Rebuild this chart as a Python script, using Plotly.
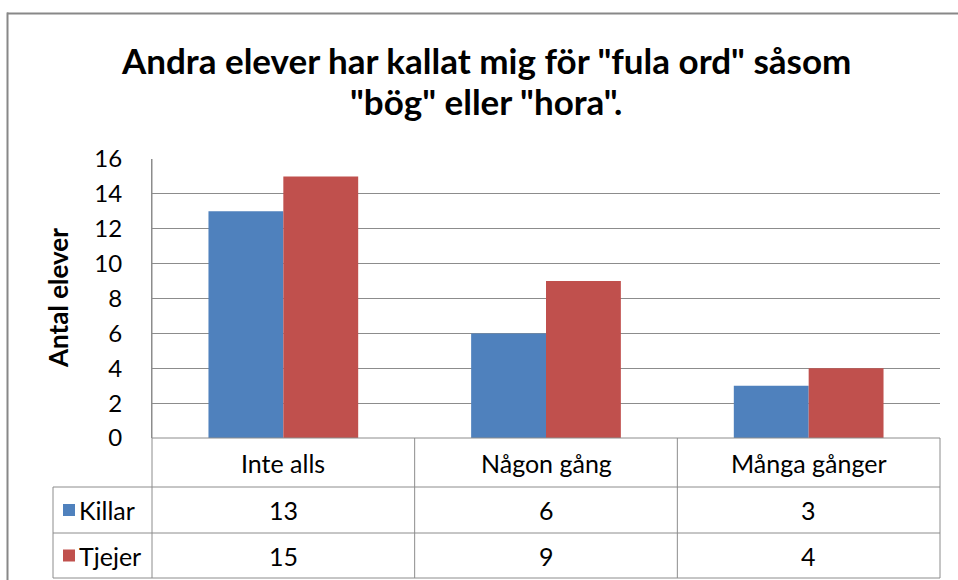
import plotly.graph_objects as go

categories = ["Inte alls", "Någon gång", "Många gånger"]
killar = [13, 6, 3]
tjejer = [15, 9, 4]
series_names = ["Killar", "Tjejer"]
colors = ["#4F81BD", "#C0504D"]
title_lines = ['Andra elever har kallat mig för "fula ord" såsom', '"bög" eller "hora".']
y_title = "Antal elever"
y_ticks = [0, 2, 4, 6, 8, 10, 12, 14, 16]

W, H = 958, 580
FONT = "Lato"
GRID = "#8c8c8c"
TXT = 25

def px(x):
    return x / W

def py(y):
    return 1 - y / H

x_left, x_right = 152, 940
y_top, y_zero = 159, 438
row_lines = [487, 533, 578]
table_left = 53

fig = go.Figure()
for name, vals, col in zip(series_names, [killar, tjejer], colors):
    fig.add_trace(go.Bar(x=list(range(len(categories))), y=vals, name=name,
                         marker=dict(color=col, line=dict(width=0))))

shapes = []
line_style = dict(color=GRID, width=1)
shapes.append(dict(type="line", xref="paper", yref="paper", x0=px(x_left), x1=px(x_right),
                   y0=py(y_zero), y1=py(y_zero), line=line_style))
for yl in row_lines:
    shapes.append(dict(type="line", xref="paper", yref="paper", x0=px(table_left), x1=px(x_right),
                       y0=py(yl), y1=py(yl), line=line_style))
ncat = len(categories)
colw = (x_right - x_left) / ncat
for i in range(ncat + 1):
    xv = x_left + i * colw
    y0 = y_top if i == 0 else y_zero
    shapes.append(dict(type="line", xref="paper", yref="paper", x0=px(xv), x1=px(xv),
                       y0=py(y0), y1=py(row_lines[-1]), line=line_style))
shapes.append(dict(type="line", xref="paper", yref="paper", x0=px(table_left), x1=px(table_left),
                   y0=py(row_lines[0]), y1=py(row_lines[-1]), line=line_style))
row_centers = [(row_lines[0] + row_lines[1]) / 2, (row_lines[1] + row_lines[2]) / 2]
for rc, col in zip(row_centers, colors):
    shapes.append(dict(type="rect", xref="paper", yref="paper", x0=px(63), x1=px(75),
                       y0=py(rc + 6), y1=py(rc - 6), fillcolor=col, line=dict(width=0)))
shapes.append(dict(type="line", xref="paper", yref="paper", x0=px(7), x1=1.01,
                   y0=py(13.5), y1=py(13.5), line=dict(color="#888888", width=2)))
shapes.append(dict(type="line", xref="paper", yref="paper", x0=px(7.5), x1=px(7.5),
                   y0=py(12.5), y1=-0.01, line=dict(color="#888888", width=2)))

annotations = []
cat_center = (y_zero + row_lines[0]) / 2
for i, c in enumerate(categories):
    annotations.append(dict(x=i, xref="x", y=py(cat_center), yref="paper", text=c, showarrow=False,
                            font=dict(family=FONT, size=TXT, color="#000"), xanchor="center", yanchor="middle"))
for rc, name, vals in zip(row_centers, series_names, [killar, tjejer]):
    annotations.append(dict(x=px(77), xref="paper", y=py(rc), yref="paper", text=name, showarrow=False,
                            font=dict(family=FONT, size=TXT, color="#000"), xanchor="left", yanchor="middle"))
    for i, v in enumerate(vals):
        annotations.append(dict(x=i, xref="x", y=py(rc), yref="paper", text=str(v), showarrow=False,
                                font=dict(family=FONT, size=TXT, color="#000"), xanchor="center", yanchor="middle"))
for line, yc in zip(title_lines, [60, 101]):
    annotations.append(dict(x=px(486), xref="paper", y=py(yc), yref="paper", text=line, showarrow=False,
                            font=dict(family=FONT, size=35, color="#000", weight="bold"),
                            xanchor="center", yanchor="middle"))
annotations.append(dict(x=px(58), xref="paper", y=py(298), yref="paper", text=y_title, showarrow=False,
                        textangle=-90, font=dict(family=FONT, size=26, color="#000", weight="bold"),
                        xanchor="center", yanchor="middle"))

fig.update_layout(
    width=W, height=H,
    margin=dict(l=0, r=0, t=0, b=0, autoexpand=False),
    paper_bgcolor="white", plot_bgcolor="white",
    barmode="group", bargap=0.43, bargroupgap=0,
    showlegend=False,
    shapes=shapes, annotations=annotations,
    xaxis=dict(domain=[px(x_left), px(x_right)], range=[-0.5, ncat - 0.5], automargin=False,
               showticklabels=False, showgrid=False, zeroline=False, showline=False, ticks=""),
    yaxis=dict(domain=[py(y_zero), py(y_top)], range=[0, 16], tickvals=y_ticks, automargin=False,
               showgrid=True, gridcolor=GRID, gridwidth=1, zeroline=False,
               showline=True, linecolor=GRID, linewidth=1, ticks="",
               ticklabelstandoff=24,
               tickfont=dict(family=FONT, size=24, color="#000")),
)
fig.write_html("out.html", config={"displayModeBar": False},
               post_script="document.body.style.margin='0';document.body.style.overflow='hidden';")
